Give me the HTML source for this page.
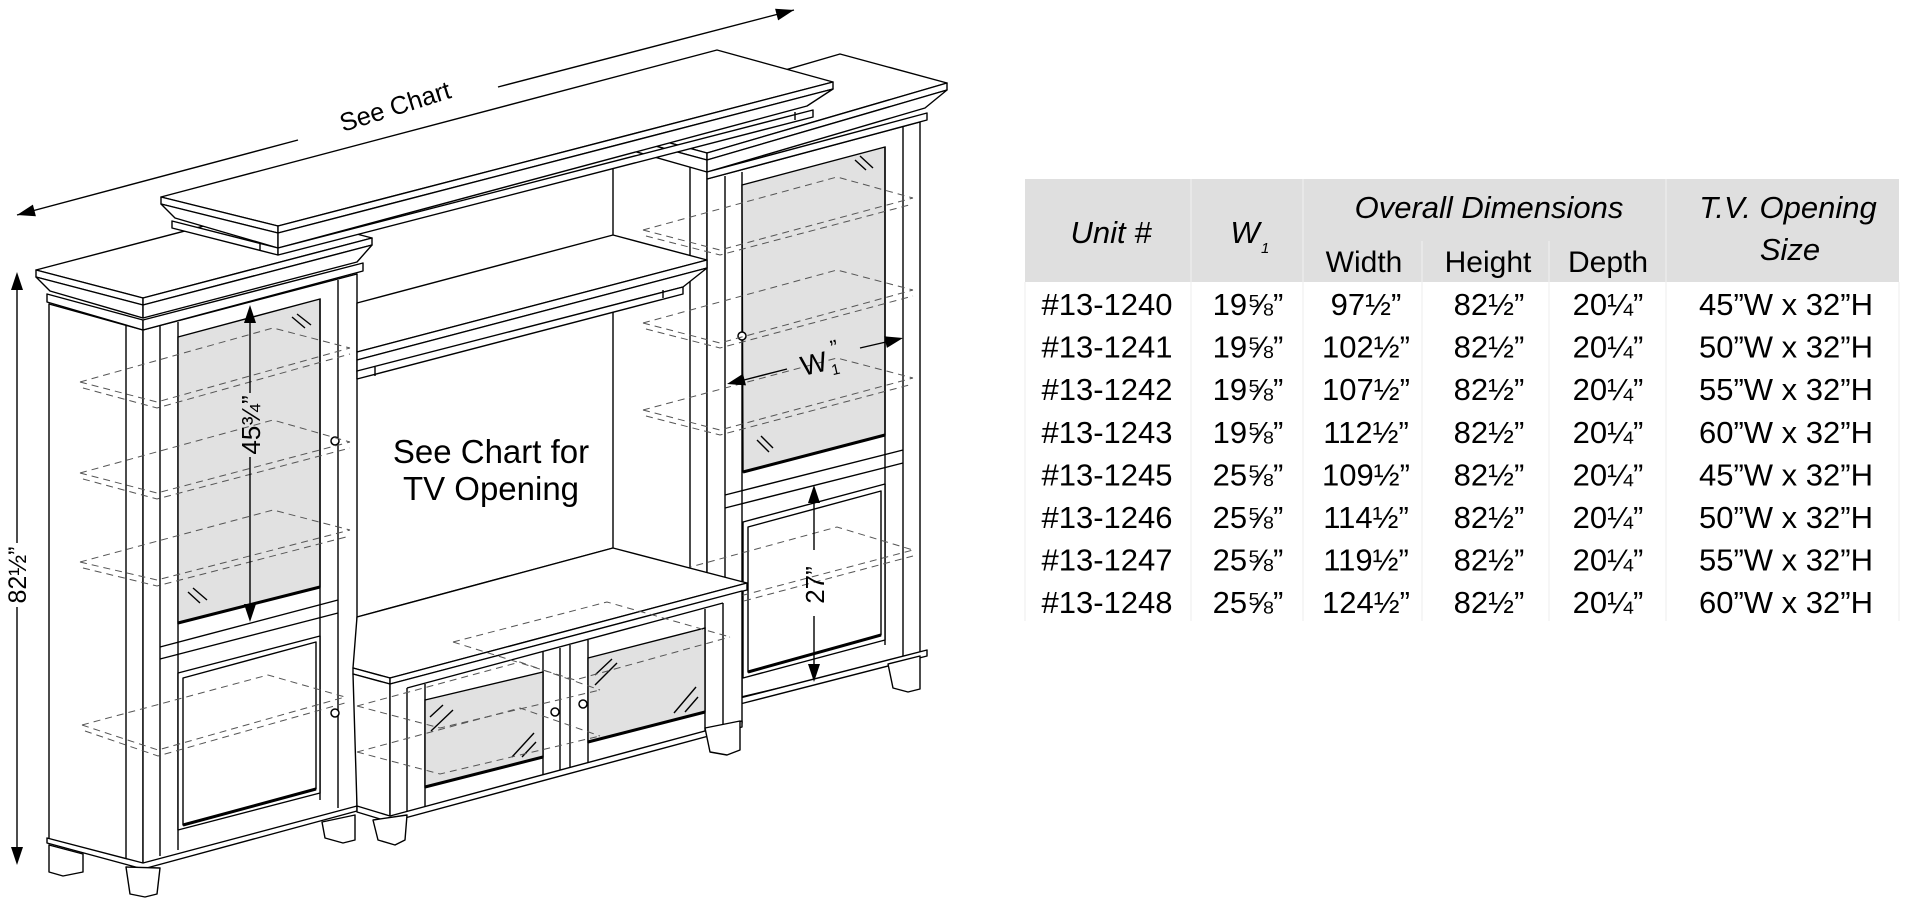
<!DOCTYPE html>
<html><head><meta charset="utf-8"><style>
html,body{margin:0;padding:0;background:#fff;width:1909px;height:904px;overflow:hidden}
svg{display:block}
text{font-family:"Liberation Sans",Arial,sans-serif;fill:#000}
.o{fill:#fff;stroke:#000;stroke-width:1.4;stroke-linejoin:round}
.l{stroke:#000;stroke-width:1.4;fill:none}
.g{fill:#e1e1e1;stroke:#000;stroke-width:1.4}
.d{fill:none;stroke:#555;stroke-width:1;stroke-dasharray:7 5}
.th{stroke:#000;stroke-width:3;fill:none}
.hd{font-style:italic;font-size:31px}
.sb{font-size:30px}
.rw{font-size:31px;text-anchor:middle}
</style></head><body>
<svg width="1909" height="904" viewBox="0 0 1909 904" xmlns="http://www.w3.org/2000/svg">

<line class="l" x1="613" y1="168" x2="613" y2="548"/>
<line class="l" x1="357" y1="617" x2="613" y2="548"/>

<!-- RIGHT TOWER -->
<polygon class="o" points="690,160 707,172 707,705 690,700"/>
<polygon class="o" points="707,179 920,122 920,655 707,705"/>
<line class="l" x1="725" y1="176" x2="725" y2="705"/>
<line class="l" x1="742" y1="172" x2="742" y2="700"/>
<line class="l" x1="903" y1="126" x2="903" y2="658"/>
<polygon class="g" points="742,185 885,147 885,435 743,472"/>
<line class="th" x1="743" y1="472" x2="885" y2="435"/>
<line class="l" x1="885" y1="147" x2="885" y2="645"/>
<line class="l" x1="725" y1="495" x2="903" y2="450"/>
<line class="l" x1="725" y1="508" x2="903" y2="463"/>
<polygon class="o" points="743,522 885,484 885,640 743,678"/>
<polygon class="o" points="748,527 881,491 881,635 748,672"/>
<line class="th" x1="748" y1="672" x2="881" y2="635"/>
<line class="l" x1="855" y1="160" x2="866" y2="170"/><line class="l" x1="860" y1="156" x2="873" y2="168"/>
<line class="l" x1="757" y1="440" x2="769" y2="452"/><line class="l" x1="761" y1="436" x2="773" y2="448"/>
<polygon class="o" points="740,698 927,650 927,656 740,704"/>
<polygon class="o" points="888,664 920,656 920,689 908,692 893,688"/>
<circle cx="742" cy="336" r="4" fill="#fff" stroke="#000" stroke-width="1.5"/>
<polygon class="o" points="600,124 707,153 947,83 840,54"/>
<polygon class="o" points="600,124 600,131 707,160 707,153"/>
<polygon class="o" points="707,153 947,83 947,90 707,160"/>
<polygon class="o" points="600,131 612,145 707,172 707,160"/>
<polygon class="o" points="707,160 947,90 925,108 707,172"/>
<polygon class="o" points="707,172 927,113 927,120 707,179"/>
<g class="d">
<polyline points="643,230 837,177 913,198"/><polyline points="643,230 720,250 913,198"/><polyline points="646,236 720,255 913,204"/>
<polyline points="643,323 837,270 913,290"/><polyline points="643,323 720,343 913,290"/><polyline points="646,329 720,348 913,296"/>
<polyline points="643,410 837,358 913,378"/><polyline points="643,410 720,430 913,378"/><polyline points="646,416 720,435 913,384"/>
<polyline points="650,578 837,527 913,550"/><polyline points="650,578 725,600 913,550"/><polyline points="652,584 725,606 913,556"/>
</g>

<!-- LEFT TOWER -->
<polygon class="o" points="49,304 143,330 143,866 49,840"/>
<polygon class="o" points="143,330 357,274 357,808 143,866"/>
<line class="l" x1="126" y1="325" x2="126" y2="862"/>
<line class="l" x1="160" y1="326" x2="160" y2="856"/>
<line class="l" x1="178" y1="322" x2="178" y2="850"/>
<line class="l" x1="338" y1="280" x2="338" y2="808"/>
<polygon class="g" points="178,337 320,299 320,587 178,623"/>
<line class="th" x1="178" y1="623" x2="320" y2="587"/>
<line class="l" x1="320" y1="299" x2="320" y2="800"/>
<line class="l" x1="292" y1="317" x2="305" y2="328"/><line class="l" x1="297" y1="314" x2="311" y2="325"/>
<line class="l" x1="188" y1="592" x2="200" y2="603"/><line class="l" x1="193" y1="588" x2="207" y2="600"/>
<line class="l" x1="160" y1="647" x2="338" y2="600"/>
<line class="l" x1="160" y1="659" x2="338" y2="613"/>
<polygon class="o" points="178,673 320,636 320,793 178,830"/>
<polygon class="o" points="183,678 316,642 316,789 183,825"/>
<line class="th" x1="183" y1="825" x2="316" y2="789"/>
<polygon class="o" points="47,838 143,863 357,806 357,811 143,869 47,843"/>
<polygon class="o" points="49,845 83,854 83,872 63,876 49,872"/>
<polygon class="o" points="126,867 160,868 157,894 145,897 130,894"/>
<polygon class="o" points="322,822 355,815 355,840 343,843 325,838"/>
<circle cx="335" cy="441" r="4" fill="#fff" stroke="#000" stroke-width="1.5"/>
<circle cx="335" cy="713" r="4" fill="#fff" stroke="#000" stroke-width="1.5"/>
<polygon class="o" points="36,270 143,298 372,238 265,210"/>
<polygon class="o" points="36,270 36,277 143,305 143,298"/>
<polygon class="o" points="143,298 372,238 372,245 143,305"/>
<polygon class="o" points="36,277 50,291 143,318 143,305"/>
<polygon class="o" points="143,305 372,245 357,262 143,318"/>
<polygon class="o" points="47,294 143,320 143,330 47,302"/>
<polygon class="o" points="143,320 363,263 363,271 143,330"/>
<g class="d">
<polyline points="80,382 273,328 350,348"/><polyline points="80,382 157,402 350,348"/><polyline points="83,388 157,408 350,354"/>
<polyline points="80,473 273,420 350,442"/><polyline points="80,473 157,493 350,442"/><polyline points="83,479 157,499 350,448"/>
<polyline points="80,562 273,510 350,530"/><polyline points="80,562 157,580 350,530"/><polyline points="83,568 157,586 350,536"/>
<polyline points="82,725 268,675 345,697"/><polyline points="82,725 158,750 345,697"/><polyline points="85,731 158,756 345,703"/>
</g>

<!-- BRIDGE SHELF -->
<polygon class="o" points="357,303 613,235 707,260 357,352"/>
<polygon class="o" points="357,352 707,260 707,268 357,360"/>
<polygon class="o" points="357,360 707,268 683,287 357,372"/>
<polygon class="o" points="357,371 683,287 683,294 357,379"/>
<line class="l" x1="375" y1="367" x2="375" y2="376"/>
<line class="l" x1="663" y1="290" x2="663" y2="298"/>

<!-- UPPER CROWN -->
<polygon class="o" points="161,197 717,50 833,82 278,226"/>
<polygon class="o" points="161,197 161,204 278,233 278,226"/>
<polygon class="o" points="278,226 833,82 833,89 278,233"/>
<polygon class="o" points="161,204 175,218 278,248 278,233"/>
<polygon class="o" points="278,233 833,89 807,106 278,248"/>
<polygon class="o" points="172,221 278,248 278,255 172,228"/>
<polygon class="o" points="278,248 813,110 813,117 278,255"/>
<line class="l" x1="260" y1="243" x2="260" y2="250"/>
<line class="l" x1="795" y1="112" x2="795" y2="120"/>

<!-- CONSOLE -->
<polygon class="o" points="353,668 357,617 613,548 747,583 390,678"/>
<polygon class="o" points="353,668 390,678 390,684 353,674"/>
<polygon class="o" points="390,678 747,583 747,590 390,684"/>
<polygon class="o" points="353,674 390,684 390,817 357,807"/>
<polygon class="o" points="390,684 742,591 742,723 390,817"/>
<line class="l" x1="407" y1="688" x2="723" y2="603"/>
<line class="l" x1="407" y1="688" x2="407" y2="812"/>
<line class="l" x1="425" y1="684" x2="425" y2="808"/>
<line class="l" x1="543" y1="652" x2="543" y2="776"/>
<line class="l" x1="560" y1="648" x2="560" y2="772"/>
<line class="l" x1="570" y1="645" x2="570" y2="769"/>
<line class="l" x1="588" y1="640" x2="588" y2="764"/>
<line class="l" x1="705" y1="609" x2="705" y2="732"/>
<line class="l" x1="723" y1="603" x2="723" y2="727"/>
<polygon class="g" points="425,700 543,672 543,757 425,787"/>
<line class="th" x1="425" y1="787" x2="543" y2="757"/>
<polygon class="g" points="588,658 705,628 705,712 588,742"/>
<line class="th" x1="588" y1="742" x2="705" y2="712"/>
<line class="l" x1="430" y1="717" x2="443" y2="705"/><line class="l" x1="431" y1="731" x2="453" y2="710"/>
<line class="l" x1="512" y1="757" x2="534" y2="733"/><line class="l" x1="522" y1="757" x2="536" y2="742"/>
<line class="l" x1="595" y1="675" x2="612" y2="659"/><line class="l" x1="595" y1="685" x2="617" y2="663"/>
<line class="l" x1="674" y1="713" x2="696" y2="687"/><line class="l" x1="685" y1="712" x2="698" y2="697"/>
<polygon class="o" points="357,806 390,816 742,721 742,727 390,822 357,812"/>
<polygon class="o" points="373,820 407,815 405,840 395,845 378,840"/>
<polygon class="o" points="705,728 740,721 740,750 727,755 710,752"/>
<circle cx="555" cy="712" r="4" fill="#fff" stroke="#000" stroke-width="1.5"/>
<circle cx="583" cy="704" r="4" fill="#fff" stroke="#000" stroke-width="1.5"/>
<g class="d">
<polyline points="453,642 607,602 730,637"/><polyline points="453,642 575,680 730,637"/>
<polyline points="357,706 520,662 600,690"/><polyline points="357,706 440,728 600,690"/>
<polyline points="357,752 520,708 600,736"/><polyline points="357,752 440,774 600,736"/>
</g>

<!-- DIMENSIONS -->
<line class="l" x1="17" y1="215" x2="298" y2="140"/>
<line class="l" x1="498" y1="87" x2="794" y2="10"/>
<polygon points="17,215 35.9,216.2 32.9,204.6" fill="#000"/>
<polygon points="794,10 778.1,20.4 775.1,8.8" fill="#000"/>
<text x="343" y="132" font-size="25.5" transform="rotate(-17.5 343 132)">See Chart</text>

<line class="l" x1="17" y1="285" x2="17" y2="543"/>
<line class="l" x1="17" y1="607" x2="17" y2="852"/>
<polygon points="17,272 11,290 23,290" fill="#000"/>
<polygon points="17,865 11,847 23,847" fill="#000"/>
<text x="26" y="575" font-size="25" text-anchor="middle" transform="rotate(-90 26 575)">82½”</text>

<line class="l" x1="250" y1="318" x2="250" y2="393"/>
<line class="l" x1="250" y1="457" x2="250" y2="610"/>
<polygon points="250,305 244,323 256,323" fill="#000"/>
<polygon points="250,622 244,604 256,604" fill="#000"/>
<text x="260" y="425" font-size="26" text-anchor="middle" transform="rotate(-90 260 425)">45¾”</text>

<line class="l" x1="814" y1="498" x2="814" y2="550"/>
<line class="l" x1="814" y1="616" x2="814" y2="670"/>
<polygon points="814,485 808,503 820,503" fill="#000"/>
<polygon points="814,682 808,664 820,664" fill="#000"/>
<text x="824" y="585" font-size="26" text-anchor="middle" transform="rotate(-90 824 585)">27”</text>

<line class="l" x1="744" y1="380" x2="787" y2="369"/>
<line class="l" x1="860" y1="348" x2="886" y2="342"/>
<polygon points="727,384 746,385.4 743,373.8" fill="#000"/>
<polygon points="903,338 886.9,347.9 884.1,336.3" fill="#000"/>
<g transform="rotate(-13 815 365)">
<text x="801" y="373" font-size="28">W</text>
<text x="830" y="379" font-size="15">1</text>
<text x="834" y="360" font-size="22">”</text>
</g>

<text x="491" y="463" font-size="33" text-anchor="middle">See Chart for</text>
<text x="491" y="500" font-size="33" text-anchor="middle">TV Opening</text>

<!-- TABLE -->
<rect x="1025" y="179" width="874" height="103" fill="#dfdfdf"/>
<g stroke="#eaeaea" stroke-width="1.5">
<line x1="1191" y1="179" x2="1191" y2="282"/>
<line x1="1303" y1="179" x2="1303" y2="282"/>
<line x1="1666" y1="179" x2="1666" y2="282"/>
<line x1="1422" y1="241" x2="1422" y2="282"/>
<line x1="1549" y1="241" x2="1549" y2="282"/>
</g>
<g stroke="#ececec" stroke-width="1">
<line x1="1025" y1="282" x2="1025" y2="621"/>
<line x1="1191" y1="282" x2="1191" y2="621"/>
<line x1="1303" y1="282" x2="1303" y2="621"/>
<line x1="1422" y1="282" x2="1422" y2="621"/>
<line x1="1549" y1="282" x2="1549" y2="621"/>
<line x1="1666" y1="282" x2="1666" y2="621"/>
<line x1="1899" y1="282" x2="1899" y2="621"/>
</g>
<text class="hd" x="1111" y="243" text-anchor="middle">Unit #</text>
<text class="hd" x="1245" y="243" text-anchor="middle">W</text>
<text x="1261" y="253" font-size="15" font-style="italic">1</text>
<text class="hd" x="1489" y="218" text-anchor="middle">Overall Dimensions</text>
<text class="hd" x="1788" y="218" text-anchor="middle">T.V. Opening</text>
<text class="hd" x="1790" y="260" text-anchor="middle">Size</text>
<text class="sb" x="1364" y="272" text-anchor="middle">Width</text>
<text class="sb" x="1488" y="272" text-anchor="middle">Height</text>
<text class="sb" x="1608" y="272" text-anchor="middle">Depth</text>

<g class="rw">
<text x="1107" y="315">#13-1240</text><text x="1248" y="315">19⅝”</text><text x="1366" y="315">97½”</text><text x="1489" y="315">82½”</text><text x="1608" y="315">20¼”</text><text x="1786" y="315">45”W x 32”H</text>
<text x="1107" y="357.6">#13-1241</text><text x="1248" y="357.6">19⅝”</text><text x="1366" y="357.6">102½”</text><text x="1489" y="357.6">82½”</text><text x="1608" y="357.6">20¼”</text><text x="1786" y="357.6">50”W x 32”H</text>
<text x="1107" y="400.2">#13-1242</text><text x="1248" y="400.2">19⅝”</text><text x="1366" y="400.2">107½”</text><text x="1489" y="400.2">82½”</text><text x="1608" y="400.2">20¼”</text><text x="1786" y="400.2">55”W x 32”H</text>
<text x="1107" y="442.8">#13-1243</text><text x="1248" y="442.8">19⅝”</text><text x="1366" y="442.8">112½”</text><text x="1489" y="442.8">82½”</text><text x="1608" y="442.8">20¼”</text><text x="1786" y="442.8">60”W x 32”H</text>
<text x="1107" y="485.4">#13-1245</text><text x="1248" y="485.4">25⅝”</text><text x="1366" y="485.4">109½”</text><text x="1489" y="485.4">82½”</text><text x="1608" y="485.4">20¼”</text><text x="1786" y="485.4">45”W x 32”H</text>
<text x="1107" y="528">#13-1246</text><text x="1248" y="528">25⅝”</text><text x="1366" y="528">114½”</text><text x="1489" y="528">82½”</text><text x="1608" y="528">20¼”</text><text x="1786" y="528">50”W x 32”H</text>
<text x="1107" y="570.6">#13-1247</text><text x="1248" y="570.6">25⅝”</text><text x="1366" y="570.6">119½”</text><text x="1489" y="570.6">82½”</text><text x="1608" y="570.6">20¼”</text><text x="1786" y="570.6">55”W x 32”H</text>
<text x="1107" y="613.2">#13-1248</text><text x="1248" y="613.2">25⅝”</text><text x="1366" y="613.2">124½”</text><text x="1489" y="613.2">82½”</text><text x="1608" y="613.2">20¼”</text><text x="1786" y="613.2">60”W x 32”H</text>
</g>
</svg>
</body></html>
